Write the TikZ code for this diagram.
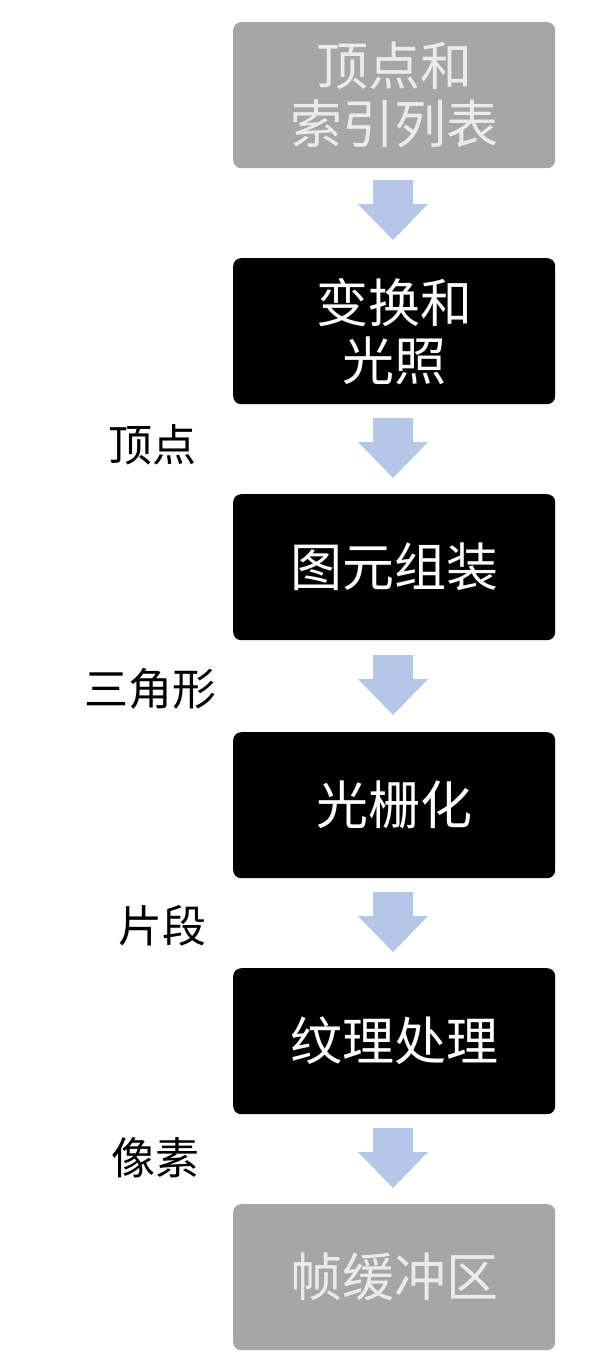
\documentclass[tikz,border=0pt]{standalone}
\usepackage{fontspec}
\newfontfamily\cjk{Noto Sans CJK SC}
\begin{document}
\begin{tikzpicture}[x=1pt,y=-1pt,
  box/.style={draw=none,rounded corners=8pt,minimum width=322pt,minimum height=146pt,anchor=north west,align=center,font=\cjk\fontsize{52}{58}\selectfont,inner sep=0pt},
  dark/.style={box,fill=black,text=white},
  grey/.style={box,fill=black!35,text=black!8},
  lab/.style={font=\cjk\fontsize{44}{50}\selectfont,text=black},
  blk/.style={fill={rgb,255:red,180;green,199;blue,231}}]
\useasboundingbox (0,0) rectangle (600,1366);
\fill[white] (0,0) rectangle (600,1366);
\node[grey] (b1) at (233,22) {顶点和\\索引列表};
\node[dark] (b2) at (233,258) {变换和\\光照};
\node[dark] (b3) at (233,494) {图元组装};
\node[dark] (b4) at (233,732) {光栅化};
\node[dark] (b5) at (233,968) {纹理处理};
\node[grey] (b6) at (233,1204) {帧缓冲区};
\foreach \t in {180,418,655,892,1128}{
  \fill[blk] (373,\t) -- (413,\t) -- (413,\t+24) -- (428,\t+24) -- (393,\t+60) -- (358,\t+24) -- (373,\t+24) -- cycle;}
\node[lab] (l1) at (152,445) {顶点};
\node[lab] (l2) at (150,689) {三角形};
\node[lab] (l3) at (162,926) {片段};
\node[lab] (l4) at (155,1158) {像素};
\end{tikzpicture}
\end{document}
